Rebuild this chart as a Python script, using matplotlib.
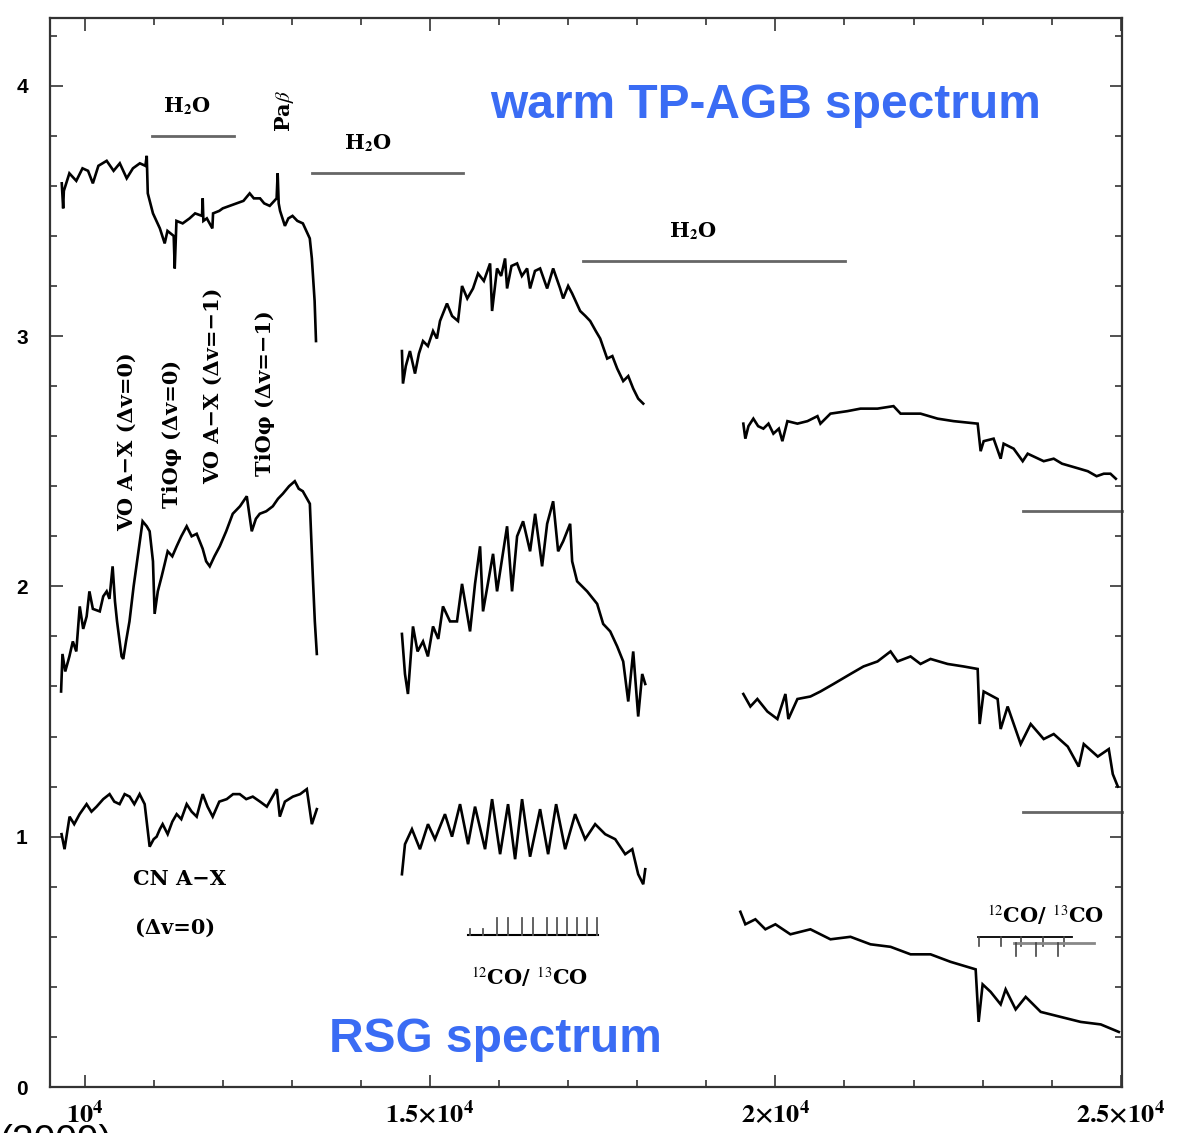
import matplotlib
matplotlib.use("Agg")
import matplotlib.pyplot as plt

# ---- spectra (wavelength in Angstrom, offset flux) ----
# warm TP-AGB star (top)
top_j_x = [9670, 9690, 9700, 9780, 9880, 9970, 10050, 10120, 10200, 10320, 10420, 10510, 10610, 10700,
           10800, 10880, 10900, 10915, 10990, 11090, 11160, 11200, 11290, 11305, 11330, 11420, 11520,
           11600, 11700, 11710, 11720, 11770, 11850, 11860, 11950, 12000, 12100, 12200, 12300, 12390,
           12450, 12540, 12600, 12680, 12780, 12795, 12810, 12830, 12900, 12950, 13010, 13080, 13160,
           13260, 13290, 13330, 13350]
top_j_y = [3.61, 3.51, 3.58, 3.65, 3.62, 3.67, 3.66, 3.61, 3.68, 3.70, 3.66, 3.69, 3.63, 3.67, 3.69,
           3.68, 3.72, 3.57, 3.49, 3.43, 3.37, 3.42, 3.40, 3.27, 3.46, 3.45, 3.47, 3.49, 3.48, 3.55,
           3.46, 3.47, 3.43, 3.49, 3.50, 3.51, 3.52, 3.53, 3.54, 3.57, 3.55, 3.55, 3.53, 3.52, 3.55,
           3.65, 3.53, 3.50, 3.44, 3.47, 3.48, 3.46, 3.45, 3.39, 3.31, 3.14, 2.98]
top_h_x = [14594, 14609, 14650, 14710, 14783, 14840, 14899, 14970, 15044, 15100, 15145, 15246, 15320,
           15406, 15464, 15540, 15623, 15696, 15780, 15870, 15899, 15971, 16030, 16087, 16116, 16180,
           16261, 16330, 16406, 16449, 16520, 16594, 16696, 16783, 16884, 16928, 17000, 17058, 17174,
           17250, 17319, 17400, 17464, 17565, 17640, 17710, 17797, 17870, 17942, 18014, 18087]
top_h_y = [2.94, 2.81, 2.88, 2.94, 2.85, 2.93, 2.98, 2.96, 3.02, 2.99, 3.06, 3.13, 3.08, 3.06, 3.20,
           3.15, 3.19, 3.25, 3.22, 3.29, 3.10, 3.27, 3.24, 3.31, 3.19, 3.28, 3.29, 3.24, 3.27, 3.19,
           3.26, 3.27, 3.19, 3.27, 3.19, 3.15, 3.20, 3.17, 3.10, 3.08, 3.06, 3.02, 2.99, 2.91, 2.92,
           2.87, 2.82, 2.84, 2.79, 2.75, 2.73]
top_k_x = [19536, 19565, 19610, 19681, 19750, 19826, 19900, 19971, 20050, 20101, 20174, 20319, 20464,
           20609, 20652, 20797, 21043, 21232, 21478, 21710, 21812, 22101, 22348, 22580, 22928, 22971,
           23015, 23159, 23261, 23304, 23449, 23580, 23652, 23884, 24029, 24150, 24275, 24400, 24522,
           24650, 24754, 24850, 24928]
top_k_y = [2.65, 2.59, 2.64, 2.67, 2.64, 2.63, 2.65, 2.61, 2.63, 2.58, 2.66, 2.65, 2.66, 2.68, 2.65,
           2.69, 2.70, 2.71, 2.71, 2.72, 2.69, 2.69, 2.67, 2.66, 2.65, 2.54, 2.58, 2.59, 2.51, 2.57,
           2.55, 2.50, 2.53, 2.50, 2.51, 2.49, 2.48, 2.47, 2.46, 2.44, 2.45, 2.45, 2.43]

# middle spectrum
mid_j_x = [9660, 9680, 9720, 9780, 9830, 9880, 9930, 9980, 10030, 10070, 10120, 10220, 10270, 10320,
           10360, 10406, 10440, 10470, 10536, 10560, 10600, 10650, 10710, 10770, 10840, 10900, 10942,
           10990, 11014, 11060, 11116, 11160, 11203, 11270, 11333, 11400, 11478, 11550, 11623, 11710,
           11760, 11812, 11880, 11957, 12050, 12145, 12250, 12348, 12420, 12480, 12536, 12630, 12725,
           12800, 12870, 12960, 13043, 13100, 13159, 13261, 13304, 13333, 13362]
mid_j_y = [1.58, 1.73, 1.66, 1.72, 1.78, 1.74, 1.92, 1.83, 1.88, 1.98, 1.91, 1.90, 1.96, 1.98, 1.95,
           2.08, 1.94, 1.86, 1.72, 1.71, 1.78, 1.86, 2.00, 2.12, 2.26, 2.24, 2.22, 2.10, 1.89, 1.98,
           2.04, 2.09, 2.14, 2.12, 2.16, 2.20, 2.24, 2.20, 2.21, 2.15, 2.10, 2.08, 2.12, 2.16, 2.22,
           2.29, 2.32, 2.36, 2.22, 2.27, 2.29, 2.30, 2.32, 2.35, 2.37, 2.40, 2.42, 2.39, 2.38, 2.33,
           2.04, 1.86, 1.73]
mid_h_x = [14594, 14638, 14681, 14754, 14820, 14899, 14970, 15044, 15120, 15188, 15290, 15391, 15464,
           15580, 15652, 15725, 15768, 15913, 15971, 16116, 16188, 16261, 16348, 16449, 16522, 16623,
           16696, 16783, 16855, 16928, 17029, 17058, 17130, 17275, 17420, 17507, 17609, 17710, 17797,
           17870, 17942, 18014, 18072, 18116]
mid_h_y = [1.81, 1.65, 1.57, 1.84, 1.74, 1.78, 1.72, 1.84, 1.79, 1.92, 1.86, 1.86, 2.01, 1.82, 2.01,
           2.16, 1.90, 2.13, 1.98, 2.24, 1.98, 2.20, 2.26, 2.14, 2.29, 2.08, 2.25, 2.34, 2.14, 2.18,
           2.25, 2.10, 2.02, 1.98, 1.93, 1.85, 1.82, 1.76, 1.70, 1.54, 1.74, 1.48, 1.65, 1.61]
mid_k_x = [19536, 19638, 19739, 19884, 20029, 20145, 20188, 20319, 20507, 20652, 20841, 21087, 21275,
           21478, 21667, 21768, 21957, 22101, 22246, 22493, 22725, 22928, 22957, 23015, 23217, 23261,
           23362, 23551, 23696, 23884, 24029, 24232, 24391, 24464, 24667, 24826, 24884, 24957]
mid_k_y = [1.57, 1.52, 1.55, 1.50, 1.47, 1.57, 1.47, 1.55, 1.56, 1.58, 1.61, 1.65, 1.68, 1.70, 1.74,
           1.70, 1.72, 1.69, 1.71, 1.69, 1.68, 1.67, 1.45, 1.58, 1.55, 1.43, 1.52, 1.37, 1.45, 1.39,
           1.41, 1.36, 1.28, 1.37, 1.32, 1.35, 1.25, 1.20]

# RSG (bottom)
rsg_j_x = [9667, 9710, 9783, 9850, 9928, 10029, 10100, 10174, 10270, 10362, 10430, 10507, 10580, 10652,
           10720, 10797, 10870, 10942, 11000, 11043, 11090, 11130, 11203, 11270, 11333, 11400, 11478,
           11550, 11623, 11710, 11780, 11855, 11950, 12058, 12150, 12246, 12340, 12435, 12540, 12638,
           12700, 12783, 12826, 12900, 13015, 13120, 13217, 13290, 13362]
rsg_j_y = [1.01, 0.95, 1.08, 1.05, 1.09, 1.13, 1.10, 1.12, 1.15, 1.17, 1.14, 1.13, 1.17, 1.16, 1.13,
           1.17, 1.13, 0.96, 0.99, 1.00, 1.03, 1.05, 1.01, 1.06, 1.09, 1.07, 1.13, 1.10, 1.08, 1.17,
           1.12, 1.08, 1.14, 1.15, 1.17, 1.17, 1.15, 1.16, 1.14, 1.12, 1.15, 1.19, 1.08, 1.14, 1.16,
           1.17, 1.19, 1.05, 1.11]
rsg_h_x = [14594, 14638, 14739, 14855, 14971, 15072, 15217, 15319, 15435, 15551, 15652, 15797, 15899,
           16015, 16130, 16232, 16333, 16449, 16594, 16710, 16826, 16957, 17101, 17246, 17391, 17536,
           17681, 17826, 17928, 18014, 18087, 18116]
rsg_h_y = [0.85, 0.97, 1.03, 0.95, 1.05, 0.99, 1.09, 1.00, 1.13, 0.97, 1.12, 0.95, 1.15, 0.93, 1.13,
           0.91, 1.15, 0.92, 1.11, 0.93, 1.13, 0.95, 1.09, 0.99, 1.05, 1.01, 0.99, 0.93, 0.95, 0.85,
           0.81, 0.87]
rsg_k_x = [19493, 19565, 19710, 19855, 20000, 20217, 20507, 20797, 21087, 21377, 21667, 21957, 22246,
           22536, 22899, 22942, 23000, 23116, 23261, 23333, 23478, 23623, 23841, 24130, 24420, 24710,
           24971]
rsg_k_y = [0.70, 0.65, 0.67, 0.63, 0.65, 0.61, 0.63, 0.59, 0.60, 0.57, 0.56, 0.53, 0.53, 0.50, 0.47,
           0.26, 0.41, 0.38, 0.33, 0.39, 0.31, 0.36, 0.30, 0.28, 0.26, 0.25, 0.22]

# ---- feature markers ----
h2o_bands = [(10970, 12170, 3.80), (13290, 15480, 3.65), (17220, 21010, 3.30)]
h2o_label_pos = [(11480, 3.92), (14100, 3.77), (18810, 3.42)]
ref_levels = [2.30, 1.10]
ref_start = 23580
co_h_ticks = [15579, 15767, 15970, 16129, 16332, 16492, 16694, 16839, 16984, 17129, 17274, 17419]
co_k12_ticks = [22945, 23261, 23551, 23870, 24174]
co_k13_ticks = [23478, 23768, 24087]

molecule_labels = [("VO A−X (Δv=0)", 10609, 2.58),
                   ("TiOφ (Δv=0)", 11261, 2.61),
                   ("VO A−X (Δv=−1)", 11855, 2.80),
                   ("TiOφ (Δv=−1)", 12609, 2.77)]

plt.rcParams["mathtext.fontset"] = "stix"
SERIF = "DejaVu Serif"
BLUE = "#3a6cf4"
LBL = dict(family=SERIF, weight="bold", fontsize=15, ha="center", va="center")

fig = plt.figure(figsize=(11.8, 11.33), dpi=100)
ax = fig.add_axes([0.0424, 0.0406, 0.9086, 0.9434])

for xs, ys in [(top_j_x, top_j_y), (top_h_x, top_h_y), (top_k_x, top_k_y),
               (mid_j_x, mid_j_y), (mid_h_x, mid_h_y), (mid_k_x, mid_k_y),
               (rsg_j_x, rsg_j_y), (rsg_h_x, rsg_h_y), (rsg_k_x, rsg_k_y)]:
    ax.plot(xs, ys, color="black", lw=1.9, solid_joinstyle="miter")

# H2O bands
for (x0, x1, y), (lx, ly) in zip(h2o_bands, h2o_label_pos):
    ax.plot([x0, x1], [y, y], color="#666666", lw=2)
    ax.text(lx, ly, r"H$_{\mathbf{2}}$O", **LBL)
ax.text(12899, 3.90, r"Pa$\beta$", rotation=90, **LBL)

for txt, x, y in molecule_labels:
    ax.text(x, y, txt, rotation=90, **LBL)

ax.text(11377, 0.83, "CN A−X", **LBL)
ax.text(11304, 0.635, "(Δv=0)", **LBL)

# reference continuum levels
for lv in ref_levels:
    ax.plot([ref_start, 25020], [lv, lv], color="#666666", lw=2, clip_on=False)

# CO bandheads, H band
ax.plot([co_h_ticks[0] - 30, co_h_ticks[-1] + 10], [0.607, 0.607], color="black", lw=1.5)
for i, t in enumerate(co_h_ticks):
    h = 0.025 if i < 2 else 0.07
    ax.plot([t, t], [0.607, 0.607 + h], color="#555555", lw=1.3)
ax.text(16449, 0.44, r"$^{12}$CO/ $^{13}$CO", **LBL)

# CO bandheads, K band
ax.plot([co_k12_ticks[0] - 5, 24300], [0.60, 0.60], color="black", lw=1.3)
for t in co_k12_ticks:
    ax.plot([t, t], [0.60, 0.565], color="#444444", lw=1.2)
ax.plot([23450, 24610], [0.575, 0.575], color="#888888", lw=2)
for t in co_k13_ticks:
    ax.plot([t, t], [0.575, 0.525], color="#444444", lw=1.2)
ax.text(23913, 0.687, r"$^{12}$CO/ $^{13}$CO", **LBL)

# highlighted labels
ax.text(19855, 3.92, "warm TP-AGB spectrum", color=BLUE, family="Liberation Sans",
        weight="bold", fontsize=34.5, ha="center", va="center")
ax.text(15942, 0.19, "RSG spectrum", color=BLUE, family="Liberation Sans",
        weight="bold", fontsize=34.5, ha="center", va="center")

ax.set_xlim(9500, 25020)
ax.set_ylim(0, 4.27)
ax.set_xticks([10000, 15000, 20000, 25000])
ax.set_xticklabels([r"$\mathbf{10^4}$", r"$\mathbf{1.5{\times}10^4}$", r"$\mathbf{2{\times}10^4}$",
                    r"$\mathbf{2.5{\times}10^4}$"], fontsize=19)
ax.set_xticks(range(11000, 25000, 1000), minor=True)
ax.set_yticks([0, 1, 2, 3, 4])
ax.set_yticklabels(["0", "1", "2", "3", "4"], family="Liberation Sans", weight="bold", fontsize=15)
ax.set_yticks([0.2 * i for i in range(1, 22) if i % 5], minor=True)
ax.tick_params(which="both", direction="in", top=True, right=True, color="#333333", width=1.2)
ax.tick_params(which="major", length=9)
ax.tick_params(which="minor", length=5)
ax.tick_params(axis="x", pad=10)
ax.tick_params(axis="y", pad=16)
for sp in ax.spines.values():
    sp.set_linewidth(1.6)
    sp.set_color("#333333")

fig.text(0.0, (1133 - 1124) / 1133, "(2009)", family="Liberation Sans", fontsize=28,
         ha="left", va="top")

fig.savefig("out.png", dpi=100)
